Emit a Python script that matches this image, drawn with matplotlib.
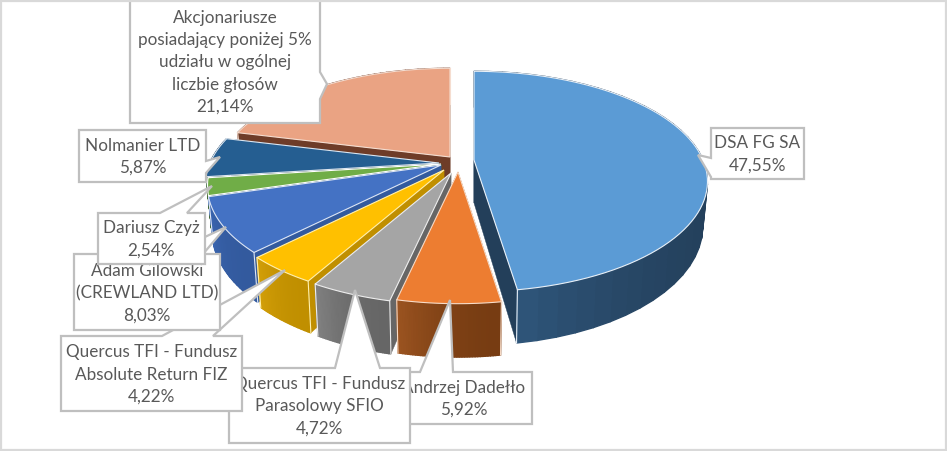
import numpy as np
import matplotlib
matplotlib.use("Agg")
import matplotlib.pyplot as plt
from matplotlib.patches import Polygon

labels = ["DSA FG SA", "Andrzej Dadełło", "Quercus TFI - Fundusz\nParasolowy SFIO",
          "Quercus TFI - Fundusz\nAbsolute Return FIZ", "Adam Gilowski\n(CREWLAND LTD)",
          "Dariusz Czyż", "Nolmanier LTD",
          "Akcjonariusze\nposiadający poniżej 5%\nudziału w ogólnej\nliczbie głosów"]
values = [47.55, 5.92, 4.72, 4.22, 8.03, 2.54, 5.87, 21.14]

top_colors = ["#5B9BD5", "#ED7D31", "#A5A5A5", "#FFC000", "#4472C4", "#70AD47", "#255E91", "#EAA383"]
wall_light = ["#2E5478", "#9A5320", "#808080", "#D29E08", "#3A65B0", "#4A7A2E", "#1B4569", "#6E3C28"]
wall_dark = ["#233F5A", "#773C12", "#666666", "#C08F00", "#335A9E", "#43682A", "#163A58", "#6E3C28"]
edge_colors = ["#E8F0F8", "#F8DCC8", "#EEEEEE", "#FFF0B0", "#DDE6F5", "#FFFFFF", "#DDE6F0", "#F5DDD0"]

# exploded position of every slice, in pixels
apex_x = [474, 458, 451, 444, 441, 441, 439, 450]
apex_y = [160, 172, 173, 170, 165, 164, 163, 157]

# perspective of the pie
RX, RY, PERSP, DEPTH, BOTTOM_SCALE = 229, 106, 0.195, 43, 0.98

# callouts: box (left, top, right, bottom), pointer (base1, tip, base2)
boxes = {
    7: ((130, -4, 320, 123), [(320, 72), (327, 84), (320, 99)]),
    6: ((79, 130, 206, 182), [(206, 161), (220, 157), (206, 173)]),
    1: ((396, 372, 532, 424), [(453, 372), (450, 300), (420, 372)]),
    2: ((229, 368, 410, 443), [(380, 368), (355, 290), (335, 368)]),
    3: ((61, 336, 242, 411), [(213, 336), (285, 270), (162, 336)]),
    4: ((74, 254, 220, 330), [(203, 254), (226, 227), (169, 254)]),
    5: ((98, 213, 205, 264), [(187, 213), (212, 186), (160, 213)]),
    0: ((711, 128, 804, 179), [(711, 158), (698, 155), (711, 177)]),
}
box_order = [7, 6, 1, 2, 3, 4, 5, 0]
paint_order = [7, 6, 5, 4, 3, 2, 1, 0]

plt.rcParams['font.family'] = ['Lato', 'DejaVu Sans']

fig = plt.figure(figsize=(9.47, 4.51), dpi=100)
ax = fig.add_axes([0, 0, 1, 1])
ax.set_xlim(0, 947)
ax.set_ylim(451, 0)
ax.axis('off')


def project(theta, radius, level, i):
    x_unit = radius * np.sin(theta)
    y_unit = -radius * np.cos(theta)
    w = 1 - PERSP * y_unit
    scale = BOTTOM_SCALE if level else 1.0
    x = apex_x[i] + RX * x_unit / w * scale
    y = apex_y[i] + (RY * y_unit + DEPTH * level) / w
    return x, y


def mix(c1, c2, t):
    a = np.array(matplotlib.colors.to_rgb(c1))
    b = np.array(matplotlib.colors.to_rgb(c2))
    return tuple(a + (b - a) * t)


fractions = np.array(values) / sum(values)
ends = np.cumsum(fractions) * 2 * np.pi
starts = ends - fractions * 2 * np.pi

for i in paint_order:
    t0, t1 = starts[i], ends[i]
    # flat faces along the two cut edges
    for t in (t0, t1):
        pts = [project(t, 0, 0, i), project(t, 1, 0, i), project(t, 1, 1, i), project(t, 0, 1, i)]
        ax.add_patch(Polygon(pts, closed=True, fc=wall_dark[i], ec=wall_dark[i], lw=0.3, zorder=2))
    # outer wall, in thin strips for the shading
    steps = np.linspace(t0, t1, 41)
    for n in range(40):
        pts = [project(steps[n], 1, 0, i), project(steps[n + 1], 1, 0, i),
               project(steps[n + 1], 1, 1, i), project(steps[n], 1, 1, i)]
        power = 6 if i == 0 else 2
        col = mix(wall_dark[i], wall_light[i], (n / 39) ** power)
        ax.add_patch(Polygon(pts, closed=True, fc=col, ec=col, lw=1.0, zorder=2))
    # light corner lines of the wall
    for t in (t0, t1):
        ax.plot(*zip(project(t, 1, 0, i), project(t, 1, 1, i)), color=edge_colors[i], lw=0.8, zorder=2)
    # top of the slice
    arc = np.linspace(t0, t1, 80)
    pts = [project(0, 0, 0, i)] + [project(t, 1, 0, i) for t in arc]
    ax.add_patch(Polygon(pts, closed=True, fc=top_colors[i], ec=edge_colors[i], lw=0.8, zorder=2))

for z, i in enumerate(box_order):
    (left, top, right, bottom), pointer = boxes[i]
    if pointer[0][1] == top:
        # pointer leaves the top side
        pts = [(left, top)] + pointer[::-1] + [(right, top), (right, bottom), (left, bottom)]
    elif pointer[0][0] == left:
        # pointer leaves the left side
        pts = [(left, top), (right, top), (right, bottom), (left, bottom)] + pointer[::-1]
    else:
        # pointer leaves the right side
        pts = [(left, top), (right, top)] + pointer + [(right, bottom), (left, bottom)]
    ax.add_patch(Polygon(pts, closed=True, fc="white", ec="#BFBFBF", lw=1.6, zorder=3 + z, joinstyle='miter'))
    text = labels[i] + "\n" + f"{values[i]:.2f}%".replace(".", ",")
    ax.text((left + right) / 2, (max(top, 0) + bottom) / 2 + 1, text, ha='center', va='center',
            color="#595959", fontsize=12.3, linespacing=1.47, zorder=3 + z)

# thin chart frame
ax.add_patch(Polygon([(1, 1), (946, 1), (946, 449.5), (1, 449.5)], closed=True, fc="none",
                     ec="#D9D9D9", lw=1.6, zorder=30))

fig.savefig("out.png", dpi=100)
